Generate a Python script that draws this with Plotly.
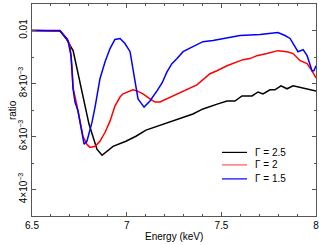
import plotly.graph_objects as go

black_x = [6.50, 6.60, 6.648, 6.680, 6.717, 6.801, 6.843, 6.870, 6.928, 6.996, 7.049, 7.102, 7.176, 7.213,
           7.298, 7.350, 7.403, 7.456, 7.482, 7.530, 7.572, 7.609, 7.662, 7.694, 7.720, 7.757, 7.783,
           7.815, 7.847, 7.879, 7.932, 7.968, 8.000]
black_y = [0.0100, 0.0100, 0.00998, 0.00970, 0.00924, 0.00647, 0.00552, 0.00529, 0.00563, 0.00582, 0.00601,
           0.00624, 0.00643, 0.00650, 0.00673, 0.00685, 0.00704, 0.00715, 0.00723, 0.00734, 0.00734,
           0.00753, 0.00753, 0.00768, 0.00761, 0.00776, 0.00776, 0.00791, 0.00780, 0.00791, 0.00783,
           0.00776, 0.00772]

red_x = [6.50, 6.60, 6.648, 6.685, 6.701, 6.711, 6.717, 6.738, 6.754, 6.769, 6.790, 6.806, 6.833, 6.859,
         6.886, 6.912, 6.938, 6.965, 6.981, 7.007, 7.033, 7.055, 7.086, 7.123, 7.150, 7.176, 7.213,
         7.266, 7.319, 7.371, 7.440, 7.477, 7.530, 7.562, 7.614, 7.651, 7.688, 7.741, 7.799, 7.847,
         7.879, 7.916, 7.953, 7.979, 8.000]
red_y = [0.0100, 0.0100, 0.00998, 0.00970, 0.00943, 0.00867, 0.00783, 0.00715, 0.00654, 0.00601, 0.00571,
         0.00559, 0.00563, 0.00582, 0.00616, 0.00658, 0.00715, 0.00749, 0.00761, 0.00768, 0.00776,
         0.00772, 0.00761, 0.00742, 0.00730, 0.00730, 0.00742, 0.00761, 0.00776, 0.00795, 0.00837,
         0.00848, 0.00867, 0.00875, 0.00890, 0.00894, 0.00905, 0.00913, 0.00924, 0.00920, 0.00913,
         0.00886, 0.00875, 0.00848, 0.00821]

blue_x = [6.50, 6.60, 6.648, 6.690, 6.706, 6.717, 6.727, 6.743, 6.764, 6.775, 6.790, 6.817, 6.833, 6.849,
          6.859, 6.886, 6.912, 6.938, 6.965, 6.991, 7.018, 7.033, 7.055, 7.060, 7.092, 7.123, 7.160,
          7.187, 7.213, 7.239, 7.266, 7.298, 7.350, 7.403, 7.456, 7.530, 7.599, 7.704, 7.799, 7.836,
          7.863, 7.905, 7.932, 7.953, 7.979, 7.989, 8.000]
blue_y = [0.0100, 0.0100, 0.0100, 0.00962, 0.00905, 0.00780, 0.00730, 0.00696, 0.00616, 0.00571, 0.00582,
          0.00654, 0.00711, 0.00780, 0.00818, 0.00882, 0.00932, 0.00966, 0.00970, 0.00951, 0.00920,
          0.00856, 0.00768, 0.00742, 0.00711, 0.00734, 0.00772, 0.00802, 0.00844, 0.00875, 0.00894,
          0.00920, 0.00939, 0.00958, 0.00962, 0.00973, 0.00981, 0.00985, 0.00992, 0.00981, 0.00970,
          0.00920, 0.00928, 0.00905, 0.00848, 0.00848, 0.00867]

series_names = ["Γ = 2.5", "Γ = 2", "Γ = 1.5"]
series_colors = ["black", "red", "blue"]
legend_colors = ["black", "#ff5555", "blue"]

y_tickvals = [0.004, 0.006, 0.008, 0.01]
y_ticktext = ["4×10<sup>−3</sup>", "6×10<sup>−3</sup>", "8×10<sup>−3</sup>", "0.01"]
x_tickvals = [6.5, 7, 7.5, 8]
x_ticktext = ["6.5", "7", "7.5", "8"]

FONT = "Liberation Sans, Arial"

fig = go.Figure()
for xs, ys, name, col in zip([black_x, red_x, blue_x], [black_y, red_y, blue_y], series_names, series_colors):
    fig.add_trace(go.Scatter(x=xs, y=ys, mode="lines", name=name,
                             line=dict(color=col, width=1.5), showlegend=False))

axis_common = dict(showline=True, linecolor="#555", linewidth=1, mirror="allticks",
                   ticks="inside", ticklen=4, tickcolor="#555", showgrid=False, zeroline=False,
                   automargin=False, ticklabeloverflow="allow",
                   tickfont=dict(family=FONT, size=10, color="black"))

fig.update_xaxes(range=[6.5, 8], tickvals=x_tickvals, ticktext=x_ticktext,
                 minor=dict(ticks="inside", ticklen=2, tickcolor="#555", dtick=0.1),
                 **axis_common)
fig.update_yaxes(range=[0.003, 0.011], tickvals=y_tickvals, ticktext=y_ticktext, tickangle=-90,
                 minor=dict(ticks="inside", ticklen=2, tickcolor="#555", dtick=0.001),
                 **axis_common)

annotations = [
    dict(text="Energy (keV)", x=0.5, y=-0.099, xref="paper", yref="paper", xanchor="center", yanchor="middle",
         showarrow=False, font=dict(family=FONT, size=10, color="black")),
    dict(text="ratio", x=-0.07, y=0.5, xref="paper", yref="paper", xanchor="center", yanchor="middle",
         textangle=-90, showarrow=False, font=dict(family=FONT, size=10, color="black")),
]
shapes = []
legend_rows = [0.300, 0.241, 0.175]
for name, col, yy in zip(series_names, legend_colors, legend_rows):
    shapes.append(dict(type="line", xref="paper", yref="paper", x0=0.669, x1=0.757, y0=yy, y1=yy,
                       line=dict(color=col, width=1.2)))
    annotations.append(dict(text=name, x=0.778, y=yy, xref="paper", yref="paper", xanchor="left",
                            yanchor="middle", showarrow=False,
                            font=dict(family=FONT, size=10, color="black")))

fig.update_layout(width=319, height=245, margin=dict(l=32, r=3, t=4, b=29),
                  plot_bgcolor="white", paper_bgcolor="white",
                  annotations=annotations, shapes=shapes, showlegend=False)

fig.write_html("out.html", config={"displayModeBar": False},
               post_script="document.body.style.margin='0';document.body.style.overflow='hidden';")
